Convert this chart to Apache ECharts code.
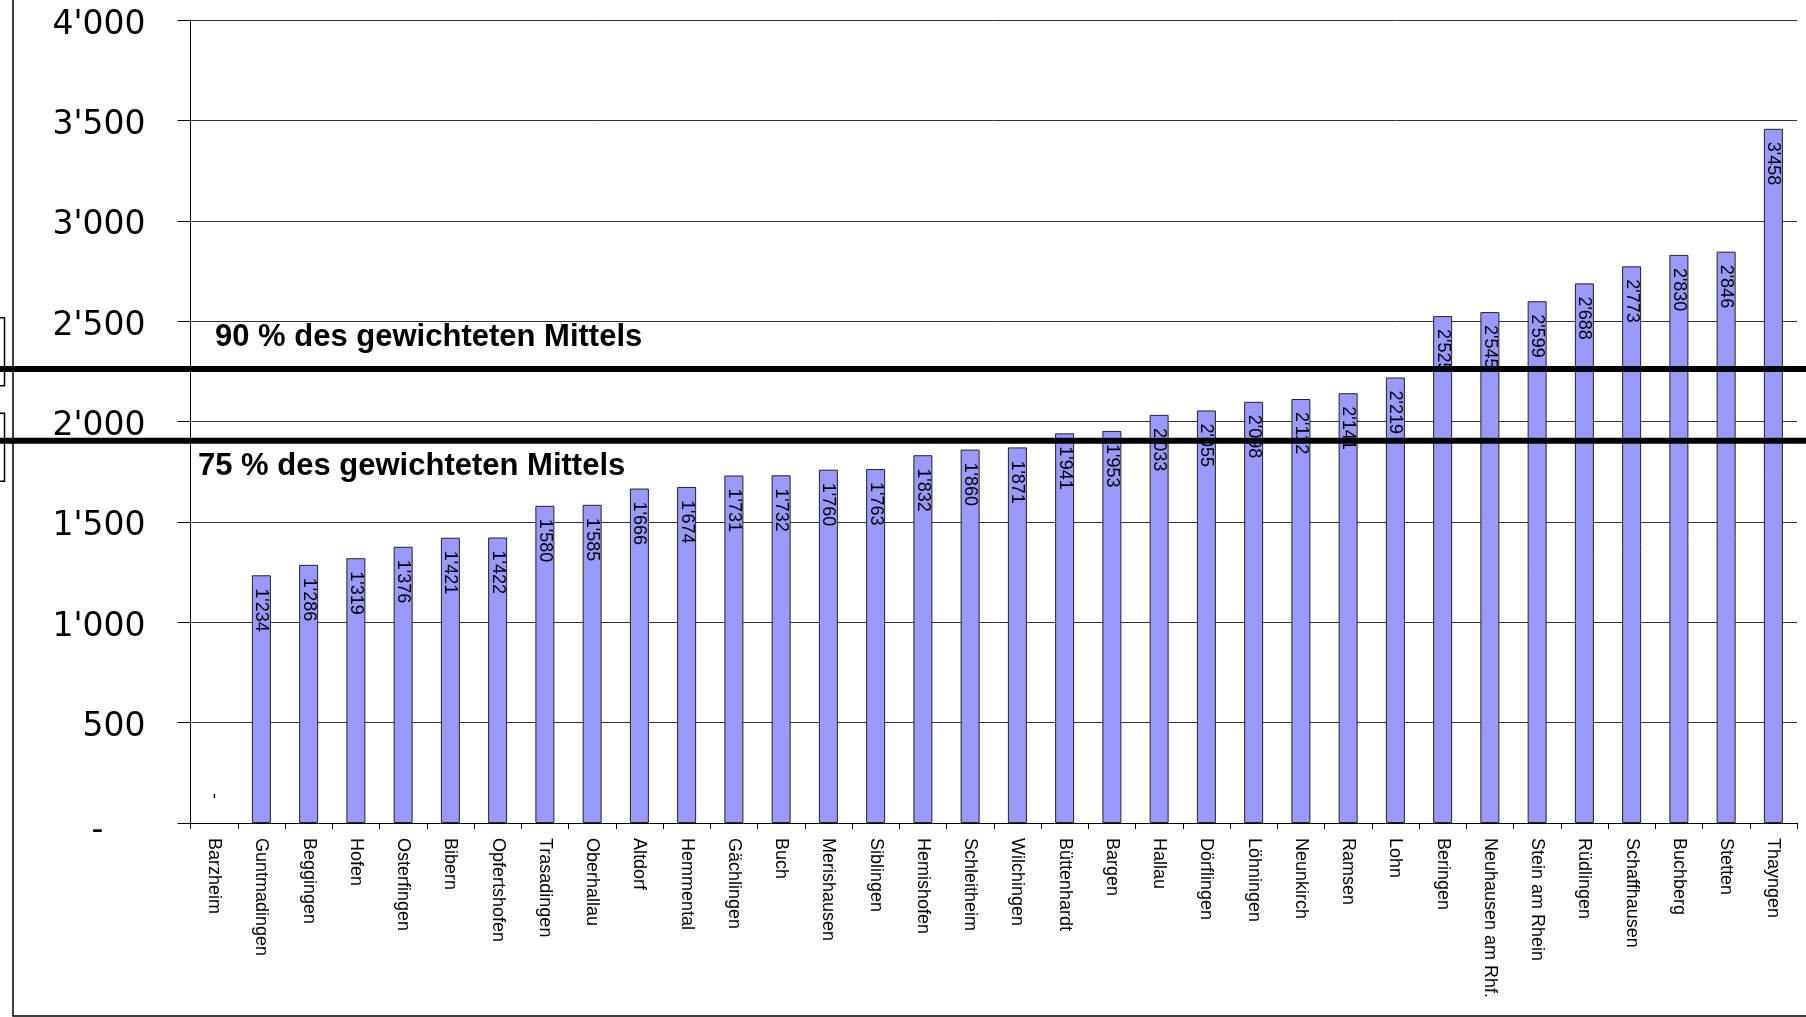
<!DOCTYPE html>
<html><head><meta charset="utf-8">
<script src="https://cdn.jsdelivr.net/npm/echarts@6/dist/echarts.min.js"></script>
<style>html,body{margin:0;padding:0;background:#fff;overflow:hidden}#c{width:1806px;height:1017px;}</style>
</head><body><div id="c"></div>
<script>
const categories = ['Barzheim','Guntmadingen','Beggingen','Hofen','Osterfingen','Bibern','Opfertshofen','Trasadingen','Oberhallau','Altdorf','Hemmental','Gächlingen','Buch','Merishausen','Siblingen','Hemishofen','Schleitheim','Wilchingen','Büttenhardt','Bargen','Hallau','Dörflingen','Löhningen','Neunkirch','Ramsen','Lohn','Beringen','Neuhausen am Rhf.','Stein am Rhein','Rüdlingen','Schaffhausen','Buchberg','Stetten','Thayngen'];
const values = [0,1234,1286,1319,1376,1421,1422,1580,1585,1666,1674,1731,1732,1760,1763,1832,1860,1871,1941,1953,2033,2055,2098,2112,2141,2219,2525,2545,2599,2688,2773,2830,2846,3458];
const yMin = 0, yMax = 4000, yInterval = 500;
const refValues = [2262, 1904];
const refLabels = ['90 % des gewichteten Mittels', '75 % des gewichteten Mittels'];

function fmt(v){
  if (v === 0) return '-';
  if (v >= 1000) return Math.floor(v/1000) + "'" + String(v % 1000).padStart(3,'0');
  return String(v);
}

const chart = echarts.init(document.getElementById('c'), null, {renderer:'canvas'});
const barData = values.map(v => v === 0 ? {value:v, itemStyle:{borderWidth:0}, label:{position:'top', distance:30}} : v);

chart.setOption({
  animation:false,
  backgroundColor:'#fff',
  grid:{left:190.5, right:9, top:20, bottom:194, containLabel:false},
  xAxis:{
    type:'category', data:categories,
    axisLine:{lineStyle:{color:'#000', width:1}},
    axisTick:{show:true, length:6, lineStyle:{color:'#000'}},
    axisLabel:{rotate:-90, margin:15, color:'#000', fontSize:18, fontFamily:'"Liberation Sans", Arial, sans-serif', interval:0}
  },
  yAxis:{
    type:'value', min:yMin, max:yMax, interval:yInterval,
    axisLine:{show:true, lineStyle:{color:'#000', width:1}},
    axisTick:{show:true, length:13, lineStyle:{color:'#000'}},
    splitLine:{show:true, lineStyle:{color:'#333', width:1}},
    axisLabel:{
      margin:45, color:'#000', fontSize:33, fontFamily:'"DejaVu Sans", sans-serif',
      padding:[10,0,0,0],
      formatter: v => v === 0 ? '{z|-}' : fmt(v),
      rich:{z:{fontSize:33, fontFamily:'"DejaVu Sans", sans-serif', color:'#000', padding:[6,42,0,0]}}
    }
  },
  series:[{
    type:'bar', data:barData, barWidth:19,
    itemStyle:{color:'#9999FF', borderColor:'#222', borderWidth:1},
    label:{
      show:true, position:'insideTop', distance:13, rotate:-90,
      align:'left', verticalAlign:'middle',
      color:'#000', fontSize:18, fontFamily:'"Liberation Sans", Arial, sans-serif',
      formatter: p => fmt(p.value)
    }
  }]
});

const W = 1806, H = 1017;
const y90 = chart.convertToPixel({yAxisIndex:0}, refValues[0]);
const y75 = chart.convertToPixel({yAxisIndex:0}, refValues[1]);
chart.setOption({
  graphic:[
    {type:'rect', shape:{x:13, y:-10, width:W+20, height:1026}, style:{fill:'none', stroke:'#000', lineWidth:1.5}, z:1, silent:true},
    {type:'rect', shape:{x:-20, y:317.7, width:24.5, height:68}, style:{fill:'none', stroke:'#000', lineWidth:1.5}, silent:true},
    {type:'rect', shape:{x:-20, y:413.3, width:24.5, height:68}, style:{fill:'none', stroke:'#000', lineWidth:1.5}, silent:true},
    {type:'line', shape:{x1:0, y1:y90, x2:W, y2:y90}, style:{stroke:'#000', lineWidth:6}, z:100, silent:true},
    {type:'line', shape:{x1:0, y1:y75, x2:W, y2:y75}, style:{stroke:'#000', lineWidth:6}, z:100, silent:true},
    {type:'text', x:215, y:y90-31, style:{text:refLabels[0], font:'bold 31px "Liberation Sans", Arial, sans-serif', fill:'#000', verticalAlign:'middle', align:'left'}, z:100, silent:true},
    {type:'text', x:198, y:y75+25.5, style:{text:refLabels[1], font:'bold 31px "Liberation Sans", Arial, sans-serif', fill:'#000', verticalAlign:'middle', align:'left'}, z:100, silent:true}
  ]
});
</script>
</body></html>
